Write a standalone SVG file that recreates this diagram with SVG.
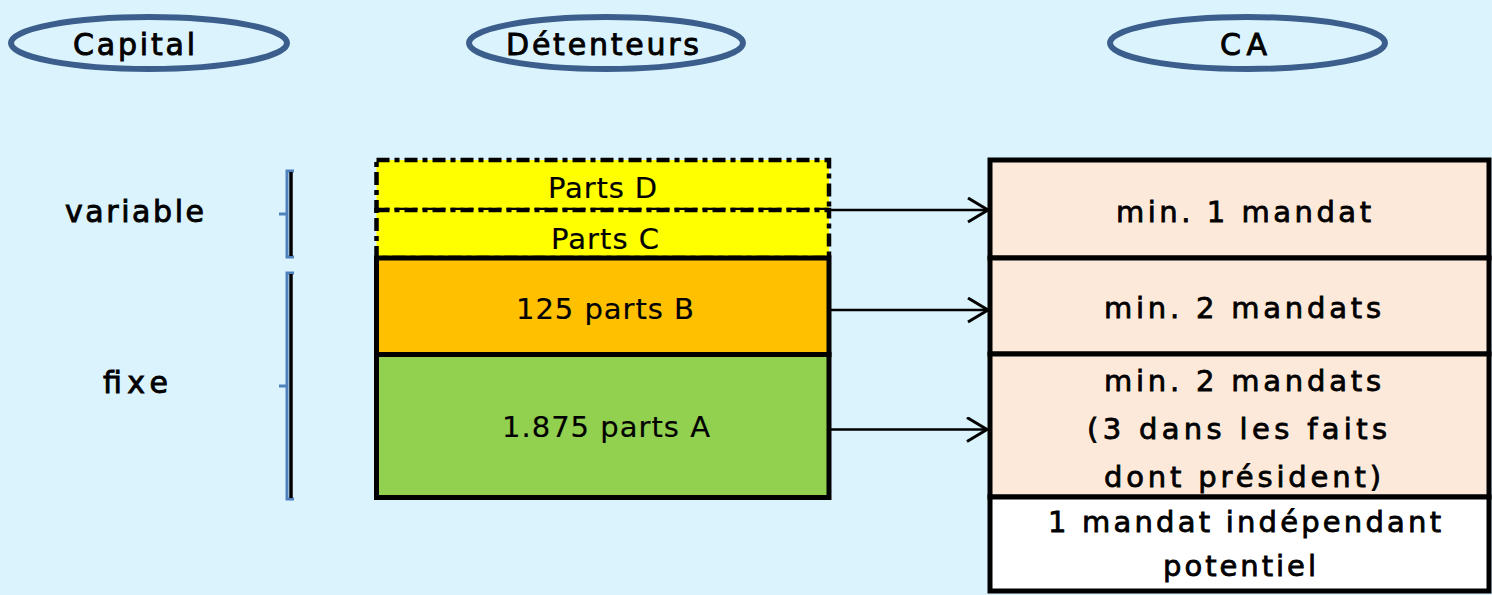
<svg xmlns="http://www.w3.org/2000/svg" width="1492" height="595" viewBox="0 0 1492 595">
<defs>
<style>
.bg{fill:#DBF3FD}
.hdr{fill:none;stroke:#3B5E8C;stroke-width:6}
.t{font-family:"DejaVu Sans","Liberation Sans",sans-serif;fill:#000;text-anchor:middle}
.h{font-size:30px;stroke:#000;stroke-width:0.9}
.c{font-size:29px;stroke:#000;stroke-width:0.8}
.p{font-size:29px;stroke:#000;stroke-width:0.2}
.box{stroke:#000;stroke-width:5}
.dd{stroke:#000;stroke-width:4.5;stroke-dasharray:13 5 5 5}
.br{fill:none;stroke:#4F81BD;stroke-width:3}
.bk{stroke:#000;stroke-width:3.5}
.conn{stroke:#000;stroke-width:2.5;fill:none}
</style>
<marker id="arr" markerUnits="userSpaceOnUse" markerWidth="30" markerHeight="30" refX="22" refY="13" orient="auto">
<path d="M2,1 L22,13 L2,25" fill="none" stroke="#000" stroke-width="3"/>
</marker>
</defs>
<rect class="bg" x="0" y="0" width="1492" height="595"/>

<g id="hdr-capital">
<ellipse class="hdr" cx="149" cy="43" rx="138" ry="26"/>
<text class="t h" x="134" y="55" textLength="122" lengthAdjust="spacing">Capital</text>
</g>
<g id="hdr-detenteurs">
<ellipse class="hdr" cx="606" cy="43" rx="137" ry="26"/>
<text class="t h" x="602.5" y="55" textLength="193" lengthAdjust="spacing">Détenteurs</text>
</g>
<g id="hdr-ca">
<ellipse class="hdr" cx="1247.5" cy="43" rx="137.5" ry="26"/>
<text class="t h" x="1243.5" y="55" textLength="47" lengthAdjust="spacing">CA</text>
</g>

<g id="label-variable">
<path class="br" d="M294,171 L287,171 L287,257 L294,257 M279,214 L287,214"/>
<line class="bk" x1="291" y1="172" x2="291" y2="256"/>
<text class="t h" x="134.5" y="222" textLength="139" lengthAdjust="spacing">variable</text>
</g>
<g id="label-fixe">
<path class="br" d="M294,273 L287,273 L287,499 L294,499 M279,386 L287,386"/>
<line class="bk" x1="291" y1="274" x2="291" y2="498"/>
<text class="t h" x="135.5" y="393" textLength="65" lengthAdjust="spacing">fixe</text>
</g>

<g id="parts-d">
<rect class="dd" x="376.5" y="160" width="452.5" height="50" fill="#FFFF00"/>
<text class="t p" x="602.5" y="198" textLength="109" lengthAdjust="spacing">Parts D</text>
</g>
<g id="parts-c">
<rect class="dd" x="376.5" y="210" width="452.5" height="48" fill="#FFFF00"/>
<text class="t p" x="605" y="249" textLength="108" lengthAdjust="spacing">Parts C</text>
</g>
<g id="parts-b">
<rect class="box" x="376.5" y="258" width="452.5" height="96.5" fill="#FFC000"/>
<text class="t p" x="605" y="319" textLength="178" lengthAdjust="spacing">125 parts B</text>
</g>
<g id="parts-a">
<rect class="box" x="376.5" y="354.5" width="452.5" height="143" fill="#92D050"/>
<text class="t p" x="606" y="437" textLength="208" lengthAdjust="spacing">1.875 parts A</text>
</g>

<g id="ca-1">
<rect class="box" x="990" y="160" width="499" height="98" fill="#FDE9D9"/>
<text class="t c" x="1243.5" y="222" textLength="255" lengthAdjust="spacing">min. 1 mandat</text>
</g>
<g id="ca-2">
<rect class="box" x="990" y="258" width="499" height="96" fill="#FDE9D9"/>
<text class="t c" x="1242.5" y="318" textLength="277" lengthAdjust="spacing">min. 2 mandats</text>
</g>
<g id="ca-3">
<rect class="box" x="990" y="354" width="499" height="143" fill="#FDE9D9"/>
<text class="t c" x="1242.5" y="391" textLength="277" lengthAdjust="spacing">min. 2 mandats</text>
<text class="t c" x="1237" y="439" textLength="300" lengthAdjust="spacing">(3 dans les faits</text>
<text class="t c" x="1242.5" y="487" textLength="277" lengthAdjust="spacing">dont président)</text>
</g>
<g id="ca-4">
<rect class="box" x="990" y="497" width="499" height="94" fill="#FFFFFF"/>
<text class="t c" x="1244.5" y="532" textLength="393" lengthAdjust="spacing">1 mandat indépendant</text>
<text class="t c" x="1239.5" y="576" textLength="153" lengthAdjust="spacing">potentiel</text>
</g>

<g id="connectors">
<line class="conn" x1="831" y1="210" x2="988" y2="210" marker-end="url(#arr)"/>
<line class="conn" x1="831" y1="310" x2="988" y2="310" marker-end="url(#arr)"/>
<line class="conn" x1="831" y1="429.5" x2="987" y2="429.5" marker-end="url(#arr)"/>
</g>
</svg>
